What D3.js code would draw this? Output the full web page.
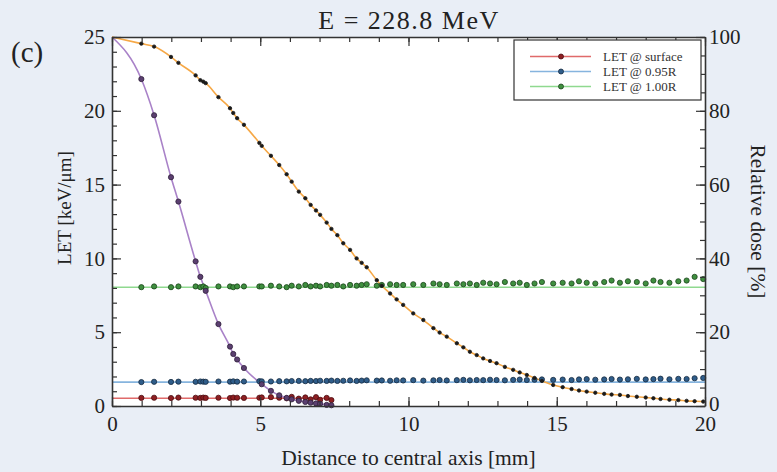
<!DOCTYPE html>
<html>
<head>
<meta charset="utf-8">
<script src="https://cdn.jsdelivr.net/npm/d3@7"></script>
<style>
  html, body { margin: 0; padding: 0; background: #e9eef6; }
  svg { display: block; font-family: "Liberation Serif", "Times New Roman", serif; }
  .axis path, .axis line { stroke: #333; }
</style>
</head>
<body>
<svg id="chart" width="777" height="472"></svg>
<script>
// radial sampling positions [mm]
const radius = [0.99, 1.42, 1.99, 2.24, 2.82, 2.98, 3.08, 3.16, 3.59, 3.98, 4.09, 4.22, 4.45, 4.97, 5.05, 5.36, 5.64, 5.89, 6.06, 6.30,
  6.52, 6.70, 6.88, 7.02, 7.24, 7.40, 7.60, 7.80, 8.03, 8.25, 8.42, 8.59, 8.93, 9.10, 9.38, 9.60, 9.82, 10.16, 10.50, 10.84,
  11.05, 11.29, 11.63, 11.85, 12.07, 12.30, 12.52, 12.75, 12.97, 13.25, 13.53, 13.75, 13.99, 14.25, 14.50, 14.88, 15.20, 15.50, 15.75, 16.01,
  16.30, 16.60, 16.85, 17.13, 17.40, 17.70, 18.00, 18.26, 18.50, 18.80, 19.10, 19.38, 19.65, 19.94];

// relative dose [%] (right axis)
const doseWide = [98.2, 97.4, 94.6, 93.0, 89.6, 88.3, 87.9, 87.5, 83.7, 80.7, 79.4, 78.0, 76.2, 71.3, 70.5, 67.8, 65.3, 62.8, 60.8, 58.1,
  56.3, 54.5, 53.0, 51.8, 49.7, 48.0, 46.3, 44.1, 42.3, 40.0, 38.8, 37.6, 34.1, 32.6, 30.5, 28.9, 27.4, 25.1, 23.3, 21.1,
  19.9, 18.8, 17.0, 15.9, 14.7, 13.8, 12.9, 12.2, 11.6, 10.6, 9.8, 9.1, 8.4, 7.6, 6.8, 5.7, 5.1, 4.6, 4.2, 3.9,
  3.6, 3.3, 3.1, 3.0, 2.7, 2.5, 2.3, 2.1, 1.9, 1.7, 1.6, 1.4, 1.3, 1.2];
const doseNarrow = [88.6, 78.8, 62.0, 55.4, 39.2, 35.0, null, 31.2, 22.2, 16.1, 14.1, 12.6, 10.3, null, 5.9, 4.1, 2.9, 2.2, 1.8, 1.4,
  1.1, 0.9, 0.7, 0.6, 0.3, 0.2];
const doseOnAxis = 100;

// LET [keV/um] (left axis)
const letSurface = [0.55, 0.56, 0.54, 0.57, 0.56, 0.55, 0.57, 0.55, 0.56, 0.54, 0.57, 0.56, 0.55, 0.56, 0.58, 0.60, 0.56, 0.52, 0.62, 0.50,
  0.58, 0.45, 0.60, 0.42, 0.55, 0.40];
const let095R = [1.62, 1.64, 1.63, 1.65, 1.64, 1.66, 1.65, 1.64, 1.66, 1.65, 1.67, 1.65, 1.66, 1.68, 1.67, 1.66, 1.68, 1.67, 1.69, 1.70,
  1.68, 1.70, 1.69, 1.71, 1.70, 1.72, 1.70, 1.71, 1.73, 1.70, 1.72, 1.74, 1.72, 1.73, 1.71, 1.74, 1.73, 1.75, 1.72, 1.74,
  1.76, 1.73, 1.75, 1.77, 1.74, 1.76, 1.75, 1.78, 1.76, 1.74, 1.77, 1.79, 1.76, 1.78, 1.80, 1.77, 1.79, 1.76, 1.80, 1.82,
  1.78, 1.80, 1.83, 1.79, 1.81, 1.84, 1.80, 1.82, 1.85, 1.81, 1.84, 1.83, 1.88, 1.90];
const let100R = [8.05, 8.10, 8.05, 8.10, 8.10, 8.05, 8.10, 8.00, 8.10, 8.10, 8.05, 8.10, 8.10, 8.10, 8.10, 8.15, 8.10, 8.05, 8.15, 8.10,
  8.20, 8.10, 8.15, 8.10, 8.20, 8.15, 8.20, 8.10, 8.20, 8.15, 8.20, 8.25, 8.15, 8.20, 8.25, 8.20, 8.20, 8.25, 8.20, 8.30,
  8.25, 8.20, 8.30, 8.25, 8.30, 8.20, 8.35, 8.30, 8.25, 8.40, 8.30, 8.35, 8.20, 8.30, 8.40, 8.30, 8.35, 8.30, 8.45, 8.35,
  8.30, 8.40, 8.50, 8.35, 8.45, 8.40, 8.30, 8.50, 8.40, 8.35, 8.45, 8.50, 8.75, 8.60];
// flat fit levels
const letFit = [0.52, 1.62, 8.05];
const legendLabels = ['LET @ surface', 'LET @ 0.95R', 'LET @ 1.00R'];

const margin = {top: 37, right: 72, bottom: 66, left: 112};
const W = 777, H = 472;
const width = W - margin.left - margin.right, height = H - margin.top - margin.bottom;

const svg = d3.select('#chart');
const g = svg.append('g').attr('transform', `translate(${margin.left},${margin.top})`);

g.append('rect').attr('width', width).attr('height', height).attr('fill', '#fff');

const x = d3.scaleLinear().domain([0, 20]).range([0, width]);
const yL = d3.scaleLinear().domain([0, 25]).range([height, 0]);
const yR = d3.scaleLinear().domain([0, 100]).range([height, 0]);

const colors = {
    red:    {line: '#e06a6a', fill: '#8e1f22', stroke: '#4a0d10'},
    blue:   {line: '#86b4de', fill: '#2f5d8a', stroke: '#15293f'},
    green:  {line: '#8fd98f', fill: '#3f8f3f', stroke: '#1c441c'},
    purple: {line: '#a982c8', fill: '#5b3f70', stroke: '#2e1f3a'},
    orange: {line: '#f6a846', fill: '#1a1a1a', stroke: '#1a1a1a'}
};

function pts(values) {
    return values.map((v, i) => ({x: radius[i], y: v})).filter(d => d.y != null);
}

const letSeries = [
    {pts: pts(letSurface), fit: letFit[0], c: colors.red},
    {pts: pts(let095R), fit: letFit[1], c: colors.blue},
    {pts: pts(let100R), fit: letFit[2], c: colors.green}
];

// flat fit lines
letSeries.forEach(s => {
    g.append('line')
        .attr('x1', x(0)).attr('x2', x(Math.min(20, d3.max(s.pts, d => d.x) + (s.c === colors.red ? 0 : 0.1))))
        .attr('y1', yL(s.fit)).attr('y2', yL(s.fit))
        .attr('stroke', s.c.line).attr('stroke-width', 1.6);
});

const doseLine = d3.line().x(d => x(d.x)).y(d => yR(d.y)).curve(d3.curveMonotoneX);
const doseSeries = [
    {pts: pts(doseNarrow), c: colors.purple, r: 2.6},
    {pts: pts(doseWide), c: colors.orange, r: 1.7}
];
doseSeries.forEach(s => {
    g.append('path')
        .datum([{x: 0, y: doseOnAxis}].concat(s.pts))
        .attr('d', doseLine)
        .attr('fill', 'none').attr('stroke', s.c.line).attr('stroke-width', 1.6);
});

letSeries.forEach(s => {
    g.append('g').selectAll('circle').data(s.pts).enter().append('circle')
        .attr('cx', d => x(d.x)).attr('cy', d => yL(d.y)).attr('r', 2.6)
        .attr('fill', s.c.fill).attr('stroke', s.c.stroke).attr('stroke-width', 0.8);
});
doseSeries.forEach(s => {
    g.append('g').selectAll('circle').data(s.pts).enter().append('circle')
        .attr('cx', d => x(d.x)).attr('cy', d => yR(d.y)).attr('r', s.r)
        .attr('fill', s.c.fill).attr('stroke', s.c.stroke).attr('stroke-width', 0.8);
});

// axes: major + minor ticks pointing inward
function axisPair(axisFn, scale, major, minor, transform, pad) {
    const mn = g.append('g').attr('class', 'axis').attr('transform', transform)
        .call(axisFn(scale).tickValues(minor).tickSize(-5).tickFormat(''));
    mn.select('.domain').remove();
    const mj = g.append('g').attr('class', 'axis').attr('transform', transform)
        .call(axisFn(scale).tickValues(major).tickSize(-9).tickSizeOuter(0).tickPadding(pad || 0)
            .tickFormat(pad ? d3.format('d') : ''));
    mj.select('.domain').attr('stroke-width', 1.6);
    mj.selectAll('line').attr('stroke-width', 1.2);
    mn.selectAll('line').attr('stroke-width', 1.2);
    mj.selectAll('text').attr('font-size', 21).attr('fill', '#222').attr('font-family', 'Liberation Serif, serif');
    return mj;
}

const xMinor = d3.range(0, 21, 1), xMajor = [0, 5, 10, 15, 20];
axisPair(d3.axisBottom, x, xMajor, xMinor, `translate(0,${height})`, 10);
axisPair(d3.axisTop, x, xMajor, xMinor, 'translate(0,0)', 0);
axisPair(d3.axisLeft, yL, [0, 5, 10, 15, 20, 25], d3.range(0, 26, 1), 'translate(0,0)', 7);
const rightAxis = axisPair(d3.axisRight, yR, [0, 20, 40, 60, 80, 100], d3.range(0, 101, 5), `translate(${width},0)`, 4);
// the "0" sits just above the bottom-right "20"
rightAxis.selectAll('text').filter(d => d === 0).attr('dy', '0.2em');

// titles
svg.append('text').attr('x', 409).attr('y', 29).attr('text-anchor', 'middle')
    .attr('font-size', 26).attr('letter-spacing', 1.5).attr('fill', '#222').text('E = 228.8 MeV');
svg.append('text').attr('x', 11).attr('y', 62)
    .attr('font-size', 29).attr('fill', '#222').text('(c)');
svg.append('text').attr('x', margin.left + width / 2).attr('y', 465).attr('text-anchor', 'middle')
    .attr('font-size', 21.5).attr('fill', '#222').text('Distance to central axis [mm]');
svg.append('text').attr('transform', `translate(71,208) rotate(-90)`).attr('text-anchor', 'middle')
    .attr('font-size', 19).attr('fill', '#222').text('LET [keV/μm]');
svg.append('text').attr('transform', `translate(751,${margin.top + height / 2}) rotate(90)`).attr('text-anchor', 'middle')
    .attr('font-size', 21.5).attr('fill', '#222').text('Relative dose [%]');

// legend
const lg = g.append('g').attr('transform', `translate(${514 - margin.left},${40 - margin.top})`);
lg.append('rect').attr('width', 187).attr('height', 60).attr('fill', '#fff').attr('stroke', '#333').attr('stroke-width', 1.2);
[colors.red, colors.blue, colors.green].forEach((c, i) => {
    const yy = 16.5 + i * 15;
    lg.append('line').attr('x1', 16).attr('x2', 77).attr('y1', yy).attr('y2', yy).attr('stroke', c.line).attr('stroke-width', 1.6);
    lg.append('circle').attr('cx', 47).attr('cy', yy).attr('r', 2.5).attr('fill', c.fill).attr('stroke', c.stroke).attr('stroke-width', 0.8);
    lg.append('text').attr('x', 89).attr('y', yy + 4.5).attr('font-size', 13).attr('fill', '#333').text(legendLabels[i]);
});
</script>
</body>
</html>
